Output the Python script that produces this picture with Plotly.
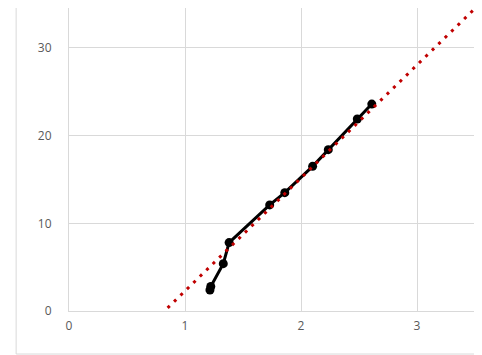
import plotly.graph_objects as go

# data
data_x = [1.215, 1.222, 1.33, 1.38, 1.73, 1.86, 2.10, 2.235, 2.485, 2.61]
data_y = [2.4, 2.8, 5.4, 7.8, 12.1, 13.5, 16.5, 18.4, 21.9, 23.6]

trend_x = [0.85, 3.60]
trend_y = [0.35, 35.8]

x_ticks = [0, 1, 2, 3]
y_ticks = [0, 10, 20, 30]

fig = go.Figure()
fig.add_trace(go.Scatter(
    x=data_x, y=data_y, mode="lines+markers",
    line=dict(color="black", width=3),
    marker=dict(color="black", size=9, line=dict(color="black", width=0)),
))
fig.add_trace(go.Scatter(
    x=trend_x, y=trend_y, mode="lines",
    line=dict(color="#c00000", width=3, dash="3px,6px"),
))

gridc = "#d9d9d9"
fig.update_layout(
    width=474, height=347,
    margin=dict(l=61, r=0, t=0, b=44),
    paper_bgcolor="white", plot_bgcolor="white",
    showlegend=False,
    font=dict(family="Open Sans", size=12, color="#595959"),
    xaxis=dict(range=[0, 3.56], tickvals=x_ticks, showgrid=True, gridcolor=gridc,
               gridwidth=1, zeroline=False, showline=True, linecolor=gridc,
               ticks="", ticklabelstandoff=4, fixedrange=True),
    yaxis=dict(range=[0, 34.56], tickvals=y_ticks, showgrid=True, gridcolor=gridc,
               gridwidth=1, zeroline=False, showline=True, linecolor=gridc,
               ticks="", ticklabelstandoff=14, fixedrange=True),
    shapes=[
        dict(type="line", xref="paper", yref="paper", x0=-0.128, x1=-0.128, y0=-0.142, y1=1.0,
             line=dict(color=gridc, width=1)),
        dict(type="line", xref="paper", yref="paper", x0=-0.128, x1=1.0, y0=-0.142, y1=-0.142,
             line=dict(color=gridc, width=1)),
    ],
)
fig.write_html("out.html")
